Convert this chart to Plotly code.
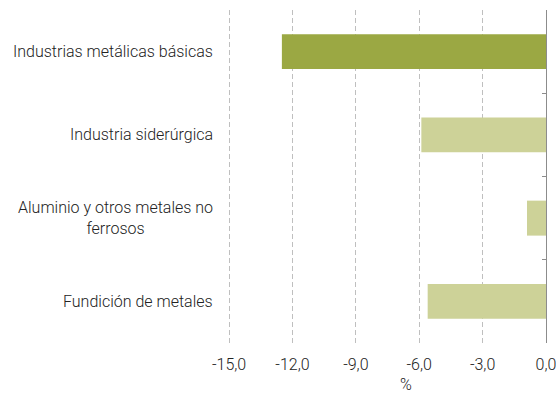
import plotly.graph_objects as go

# Categories, values and labels
categories = [
    "Industrias metálicas básicas",
    "Industria siderúrgica",
    "Aluminio y otros metales no<br>ferrosos",
    "Fundición de metales",
]
values = [-12.5, -5.9, -0.9, -5.6]
bar_colors = ["#9ba843", "#cdd298", "#cdd298", "#cdd298"]
x_tickvals = [-15, -12, -9, -6, -3, 0]
x_ticktext = ["-15,0", "-12,0", "-9,0", "-6,0", "-3,0", "0,0"]
x_title = "%"

font_family = "Roboto, Liberation Sans, Arial, sans-serif"
font_size = 16
font_weight = 300
text_color = "#222222"
label_font = dict(family=font_family, size=font_size, color=text_color, weight=font_weight)

fig = go.Figure()

fig.add_trace(go.Bar(
    x=values,
    y=categories,
    orientation="h",
    marker=dict(color=bar_colors, line=dict(width=0)),
    width=0.42,
    hoverinfo="skip",
))

# invisible trace carrying the right-hand axis line with boundary ticks
fig.add_trace(go.Scatter(
    x=[None] * len(categories),
    y=categories,
    yaxis="y2",
    mode="markers",
    marker=dict(opacity=0),
    showlegend=False,
    hoverinfo="skip",
))

# category labels, centred line by line and right aligned to the plot
for cat in categories:
    fig.add_annotation(
        x=0, xref="paper", xanchor="right", xshift=-13,
        y=cat, yref="y",
        text=cat, showarrow=False, align="center",
        font=label_font,
    )

# x axis unit label below the tick labels
fig.add_annotation(
    x=0.56, xref="paper", xanchor="center",
    y=0, yref="paper", yanchor="middle", yshift=-41,
    text=x_title, showarrow=False, font=label_font,
)

fig.update_layout(
    width=556,
    height=394,
    margin=dict(l=228, r=10, t=10, b=51, autoexpand=False),
    paper_bgcolor="white",
    plot_bgcolor="white",
    showlegend=False,
    font=label_font,
    xaxis=dict(
        range=[-15.05, 0],
        tickvals=x_tickvals,
        ticktext=x_ticktext,
        ticks="outside",
        ticklen=7,
        tickcolor="rgba(0,0,0,0)",
        ticklabeloverflow="allow",
        showgrid=True,
        gridcolor="#bfbfbf",
        griddash="5px,3px",
        gridwidth=1,
        zeroline=False,
        showline=False,
        automargin=False,
        tickfont=label_font,
        fixedrange=True,
    ),
    yaxis=dict(
        type="category",
        categoryorder="array",
        categoryarray=categories,
        range=[3.5, -0.5],
        showticklabels=False,
        showgrid=False,
        zeroline=False,
        showline=False,
        ticks="",
        automargin=False,
        fixedrange=True,
    ),
    yaxis2=dict(
        type="category",
        categoryorder="array",
        categoryarray=categories,
        range=[3.5, -0.5],
        overlaying="y",
        side="right",
        anchor="x",
        showticklabels=False,
        showgrid=False,
        zeroline=False,
        showline=True,
        linecolor="#8c8c8c",
        linewidth=1,
        ticks="inside",
        tickson="boundaries",
        ticklen=4,
        tickcolor="#8c8c8c",
        automargin=False,
        fixedrange=True,
    ),
)

fig.write_html("out.html")
